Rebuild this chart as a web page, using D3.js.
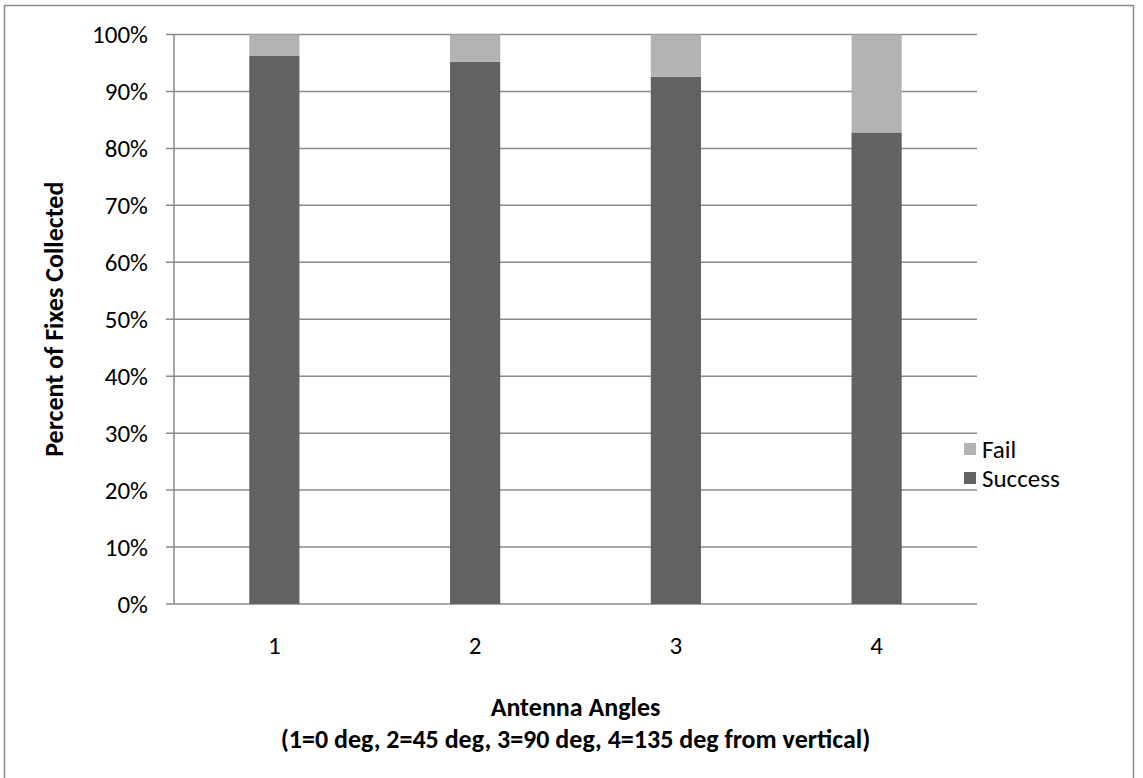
<!DOCTYPE html>
<html>
<head>
<meta charset="utf-8">
<script src="https://cdn.jsdelivr.net/npm/d3@7"></script>
<style>
  body { margin: 0; background: #fff; }
  text { font-family: Carlito, Calibri, Lato, "Open Sans", sans-serif; }
</style>
</head>
<body>
<div id="chart"></div>
<script>
// data
let angles = ["1", "2", "3", "4"];
let successPct = [96.3, 95.2, 92.6, 82.8];
let failPct = [3.7, 4.8, 7.4, 17.2];
let yTicks = [0, 10, 20, 30, 40, 50, 60, 70, 80, 90, 100];
let seriesNames = ["Fail", "Success"];
let seriesColors = ["#b3b3b3", "#626262"];

let margin = {top: 34.5, right: 166, bottom: 174, left: 174},
  width = 1143 - margin.left - margin.right,
  height = 778 - margin.top - margin.bottom;

let fontSize = "25px",
  titleSize = "26px";

let svg = d3.select("#chart")
  .append("svg")
  .attr("width", 1143)
  .attr("height", 778);

// outer chart frame
svg.append("path")
  .attr("d", "M4.5,790 V5.5 H1133.5 V790")
  .attr("fill", "none")
  .attr("stroke", "#8c8c8c")
  .attr("stroke-width", 1.5);

let g = svg.append("g")
  .attr("transform", "translate(" + margin.left + "," + margin.top + ")");

let x = d3.scaleBand()
  .domain(angles)
  .range([0, width]);

let y = d3.scaleLinear()
  .domain([0, 100])
  .range([height, 0]);

// gridlines
g.append("g")
  .selectAll("line")
  .data(yTicks)
  .enter()
  .append("line")
  .attr("x1", -8)
  .attr("x2", width)
  .attr("y1", d => y(d))
  .attr("y2", d => y(d))
  .attr("stroke", "#8a8a8a")
  .attr("stroke-width", 1.5);

// stacked bars
let rows = angles.map((a, i) => ({angle: a, success: successPct[i], fail: failPct[i]}));
let stacked = d3.stack().keys(["success", "fail"])(rows);
let barW = x.bandwidth() * 0.25;

g.append("g")
  .selectAll("g")
  .data(stacked)
  .enter()
  .append("g")
  .attr("fill", d => d.key == "success" ? seriesColors[1] : seriesColors[0])
  .selectAll("rect")
  .data(d => d)
  .enter()
  .append("rect")
  .attr("x", d => x(d.data.angle) + (x.bandwidth() - barW) / 2)
  .attr("y", d => y(d[1]))
  .attr("width", barW)
  .attr("height", d => y(d[0]) - y(d[1]));

// y axis line
g.append("line")
  .attr("x1", 0).attr("x2", 0)
  .attr("y1", 0).attr("y2", height)
  .attr("stroke", "#8a8a8a")
  .attr("stroke-width", 1.5);

// y tick labels
g.append("g")
  .selectAll("text")
  .data(yTicks)
  .enter()
  .append("text")
  .attr("x", -26)
  .attr("y", d => y(d))
  .attr("dy", "0.35em")
  .attr("text-anchor", "end")
  .attr("font-size", fontSize)
  .attr("fill", "#000")
  .text(d => d + "%");

// x tick labels
g.append("g")
  .selectAll("text")
  .data(angles)
  .enter()
  .append("text")
  .attr("x", d => x(d) + x.bandwidth() / 2)
  .attr("y", height + 50)
  .attr("text-anchor", "middle")
  .attr("font-size", fontSize)
  .text(d => d);

// axis titles
svg.append("text")
  .attr("x", margin.left + width / 2)
  .attr("y", 716)
  .attr("text-anchor", "middle")
  .attr("font-size", titleSize)
  .attr("font-weight", "bold")
  .text("Antenna Angles");

svg.append("text")
  .attr("x", margin.left + width / 2)
  .attr("y", 748)
  .attr("text-anchor", "middle")
  .attr("font-size", titleSize)
  .attr("font-weight", "bold")
  .text("(1=0 deg, 2=45 deg, 3=90 deg, 4=135 deg from vertical)");

svg.append("text")
  .attr("transform", "translate(63," + (margin.top + height / 2) + ") rotate(-90)")
  .attr("text-anchor", "middle")
  .attr("font-size", titleSize)
  .attr("font-weight", "bold")
  .text("Percent of Fixes Collected");

// legend
let legend = svg.append("g")
  .attr("transform", "translate(964,443)");

legend.selectAll("rect")
  .data(seriesNames)
  .enter()
  .append("rect")
  .attr("x", 0)
  .attr("y", (d, i) => i * 29)
  .attr("width", 12)
  .attr("height", 12)
  .attr("fill", (d, i) => seriesColors[i]);

legend.selectAll("text")
  .data(seriesNames)
  .enter()
  .append("text")
  .attr("x", 18)
  .attr("y", (d, i) => i * 29 + 6)
  .attr("dy", "0.35em")
  .attr("font-size", fontSize)
  .text(d => d);
</script>
</body>
</html>
